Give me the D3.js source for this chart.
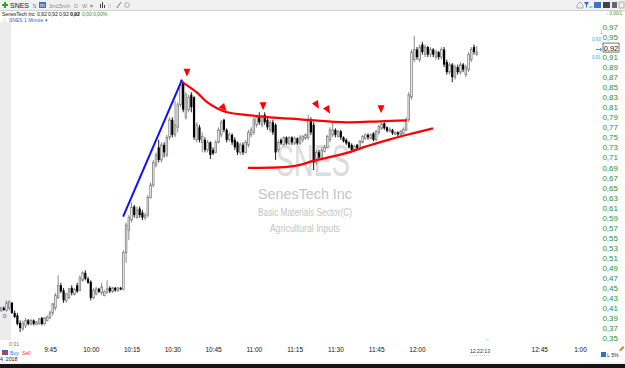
<!DOCTYPE html>
<html>
<head>
<meta charset="utf-8">
<script src="https://cdn.jsdelivr.net/npm/d3@7"></script>
<style>
html, body { margin: 0; padding: 0; background: #fff; overflow: hidden; }
svg { display: block; font-family: "Liberation Sans", Arial, sans-serif; }
</style>
</head>
<body>
<svg id="chart" width="625" height="368"></svg>
<script>
// SNES 1 minute bars, first bar at 9:27, each [open, high, low, close]
const firstBar = "09:27";
const bars = [
  [.405,.412,.402,.41],[.41,.413,.404,.406],[.405,.425,.403,.42],[.41,.425,.405,.422],[.42,.422,.398,.40],[.40,.405,.39,.392],[.395,.40,.375,.378],[.38,.385,.362,.37],[.368,.385,.365,.38],[.375,.39,.37,.385],
  [.385,.388,.375,.378],[.378,.388,.375,.385],[.385,.387,.375,.378],[.377,.384,.375,.382],[.378,.39,.377,.388],[.39,.392,.375,.378],[.378,.392,.377,.39],[.385,.395,.383,.392],[.39,.405,.388,.40],[.40,.42,.395,.418],
  [.41,.44,.405,.435],[.43,.475,.428,.455],[.455,.46,.44,.443],[.445,.45,.42,.425],[.425,.44,.42,.438],[.43,.45,.428,.448],[.45,.455,.435,.44],[.437,.45,.435,.447],[.455,.46,.44,.443],[.445,.475,.443,.47],
  [.465,.483,.462,.48],[.48,.485,.465,.468],[.468,.472,.458,.46],[.462,.465,.425,.43],[.43,.45,.428,.445],[.438,.452,.435,.448],[.448,.45,.44,.442],[.44,.46,.435,.452],[.435,.445,.433,.442],[.44,.465,.44,.448],
  [.45,.453,.44,.443],[.443,.452,.44,.45],[.45,.452,.442,.445],[.444,.452,.443,.45],[.45,.452,.445,.447],[.447,.525,.445,.52],[.52,.58,.50,.575],[.565,.595,.545,.59],[.585,.62,.58,.61],[.612,.615,.59,.595],
  [.59,.612,.588,.605],[.608,.612,.59,.595],[.60,.605,.585,.59],[.59,.60,.585,.595],[.595,.635,.59,.63],[.63,.66,.628,.655],[.655,.705,.65,.70],[.695,.72,.69,.715],[.73,.745,.70,.705],[.705,.74,.70,.735],
  [.735,.74,.71,.72],[.715,.755,.71,.75],[.75,.79,.745,.785],[.785,.79,.75,.755],[.755,.823,.75,.775],[.77,.82,.76,.815],[.815,.865,.81,.855],[.86,.862,.80,.805],[.79,.84,.785,.835],[.805,.835,.80,.83],
  [.835,.84,.80,.81],[.83,.832,.745,.75],[.745,.78,.74,.775],[.77,.775,.74,.745],[.74,.76,.72,.752],[.745,.75,.72,.725],[.725,.745,.72,.74],[.74,.742,.707,.715],[.725,.73,.715,.718],[.72,.745,.718,.74],
  [.74,.77,.738,.765],[.755,.785,.75,.78],[.785,.787,.76,.765],[.765,.768,.74,.745],[.745,.76,.742,.755],[.755,.758,.735,.74],[.745,.75,.725,.73],[.74,.742,.715,.72],[.72,.74,.715,.735],[.735,.74,.715,.72],
  [.72,.745,.718,.74],[.735,.765,.73,.76],[.755,.77,.75,.765],[.76,.79,.755,.785],[.775,.795,.77,.79],[.79,.80,.775,.78],[.775,.795,.77,.79],[.795,.80,.775,.78],[.785,.79,.765,.77],[.765,.785,.76,.78],
  [.78,.785,.755,.76],[.775,.778,.705,.72],[.725,.745,.72,.74],[.745,.748,.735,.738],[.735,.752,.733,.75],[.75,.752,.735,.738],[.737,.752,.735,.75],[.75,.752,.735,.74],[.738,.752,.735,.748],[.748,.75,.735,.738],
  [.738,.755,.735,.75],[.745,.755,.74,.752],[.748,.758,.745,.755],[.75,.795,.745,.785],[.785,.79,.755,.76],[.775,.78,.685,.70],[.70,.725,.695,.72],[.72,.725,.705,.71],[.71,.73,.705,.725],[.722,.735,.72,.73],
  [.73,.755,.728,.752],[.745,.77,.74,.765],[.755,.78,.75,.765],[.765,.768,.75,.755],[.752,.765,.75,.762],[.762,.765,.745,.75],[.75,.752,.74,.742],[.745,.748,.735,.738],[.74,.742,.728,.73],[.735,.738,.72,.725],
  [.725,.735,.72,.732],[.735,.737,.725,.728],[.728,.745,.725,.742],[.74,.755,.738,.752],[.748,.758,.745,.755],[.755,.758,.745,.75],[.748,.758,.746,.755],[.758,.76,.742,.745],[.745,.765,.743,.762],[.76,.775,.755,.772],
  [.768,.78,.765,.776],[.778,.78,.765,.768],[.77,.772,.76,.763],[.762,.77,.76,.766],[.765,.767,.755,.758],[.756,.762,.754,.76],[.76,.762,.752,.756],[.756,.765,.754,.762],[.758,.77,.756,.766],[.765,.79,.762,.785],
  [.785,.84,.78,.835],[.83,.925,.825,.92],[.905,.952,.90,.925],[.925,.93,.905,.91],[.905,.935,.90,.93],[.935,.94,.915,.92],[.915,.935,.91,.93],[.93,.932,.91,.915],[.915,.93,.91,.925],[.925,.928,.91,.915],
  [.91,.925,.905,.92],[.92,.922,.905,.91],[.91,.93,.905,.925],[.925,.93,.89,.895],[.90,.905,.875,.88],[.88,.90,.875,.895],[.895,.898,.86,.87],[.87,.895,.865,.89],[.89,.895,.875,.88],[.88,.90,.875,.895],
  [.895,.898,.88,.885],[.875,.895,.87,.89],[.885,.92,.88,.915],[.905,.93,.90,.925],[.93,.935,.915,.92],[.915,.932,.912,.92]
];

const timeTicks = ["09:45","10:00","10:15","10:30","10:45","11:00","11:15","11:30","11:45","12:00","12:45","13:00"];
const priceTicks = [0.35,0.37,0.39,0.41,0.43,0.45,0.47,0.49,0.51,0.53,0.55,0.57,0.59,0.61,0.63,0.65,0.67,0.69,0.71,0.73,0.75,0.77,0.79,0.81,0.83,0.85,0.87,0.89,0.91,0.95,0.97];
const lastPrice = 0.92;

// hand drawn annotations: [minutes after first bar, price]
const resistance = [[66.9,.859],[72.1,.839],[75.8,.820],[79.4,.808],[83.1,.800],[91.6,.794],[98.9,.790],[110,.786],[127.3,.780],[139.4,.782],[149.3,.784]];
const support = [[90.8,.689],[105.2,.691],[110,.695],[114.8,.703],[122.9,.713],[127.3,.719],[133.2,.730],[143.1,.746],[151.5,.758],[158.9,.768]];
const runup = [[44.9,.592],[66.6,.865]];
const arrows = [[68.4,.879],[82,.808],[96.4,.812],[116.2,.814],[120.3,.804],[139.8,.806]];
const arrowTilt = [0, -40, 0, -30, -30, 0];

const parseHM = d3.timeParse("%H:%M");
const t0 = parseHM(firstBar);
const atMinute = (m) => new Date(t0.getTime() + m * 60000);
const comma = (v) => d3.format(".2f")(v).replace(".", ",");

const svg = d3.select("#chart");

const x = d3.scaleTime().domain([parseHM("09:45"), parseHM("13:00")]).range([50, 580]);
const y = d3.scaleLinear().domain([0.35, 0.97]).range([338, 27]);

// left strip
svg.append("rect").attr("x", 0).attr("y", 22).attr("width", 11).attr("height", 318).attr("fill", "#ececec");
svg.append("text").attr("x", 3).attr("y", 318).attr("font-size", 6).attr("fill", "#555").text("0");

// watermark
const wm = svg.append("g").attr("text-anchor", "middle");
wm.append("text").attr("x", 313).attr("y", 176).attr("font-size", 44).attr("textLength", 74)
  .attr("lengthAdjust", "spacingAndGlyphs").attr("fill", "#dcdcdc").text("SNES");
wm.append("text").attr("x", 305).attr("y", 199).attr("font-size", 15).attr("textLength", 94)
  .attr("lengthAdjust", "spacingAndGlyphs").attr("fill", "#c4c4c4").text("SenesTech Inc");
wm.append("text").attr("x", 305).attr("y", 216).attr("font-size", 11).attr("textLength", 94)
  .attr("lengthAdjust", "spacingAndGlyphs").attr("fill", "#c4c4c4").text("Basic Materials Sector(C)");
wm.append("text").attr("x", 305).attr("y", 232).attr("font-size", 11).attr("textLength", 70)
  .attr("lengthAdjust", "spacingAndGlyphs").attr("fill", "#c4c4c4").text("Agricultural Inputs");

// candles
const candles = svg.append("g").selectAll("g")
  .data(bars)
  .join("g")
  .attr("transform", (d, i) => `translate(${x(atMinute(i))},0)`);

candles.append("line")
  .attr("y1", (d) => y(d[1]))
  .attr("y2", (d) => y(d[2]))
  .attr("stroke", (d) => (d[3] >= d[0] ? "#7d7d7d" : "#000"))
  .attr("stroke-width", 0.9);

candles.append("rect")
  .attr("x", (d) => (d[3] >= d[0] ? -0.8 : -1.1))
  .attr("width", (d) => (d[3] >= d[0] ? 1.6 : 2.2))
  .attr("y", (d) => y(Math.max(d[0], d[3])))
  .attr("height", (d) => Math.max(1, Math.abs(y(d[0]) - y(d[3]))))
  .attr("fill", (d) => (d[3] >= d[0] ? "#fff" : "#000"))
  .attr("stroke", (d) => (d[3] >= d[0] ? "#7d7d7d" : "none"))
  .attr("stroke-width", 0.8);

// annotations
const pen = d3.line()
  .x((d) => x(atMinute(d[0])))
  .y((d) => y(d[1]))
  .curve(d3.curveCatmullRom);

svg.append("path").attr("d", pen(resistance)).attr("fill", "none").attr("stroke", "#ff0000").attr("stroke-width", 2.2);
svg.append("path").attr("d", pen(support)).attr("fill", "none").attr("stroke", "#ff0000").attr("stroke-width", 2.2);
svg.append("path").attr("d", d3.line().x((d) => x(atMinute(d[0]))).y((d) => y(d[1]))(runup))
  .attr("fill", "none").attr("stroke", "#0d0dff").attr("stroke-width", 2);

svg.append("g").selectAll("path")
  .data(arrows)
  .join("path")
  .attr("d", "M-3.5,-4L3.5,-4L0,4Z")
  .attr("fill", "#ff0000")
  .attr("transform", (d, i) => `translate(${x(atMinute(d[0]))},${y(d[1])}) rotate(${arrowTilt[i]})`);

// time axis
const xAxis = svg.append("g")
  .attr("transform", "translate(0,349)")
  .call(d3.axisBottom(x)
    .tickValues(timeTicks.map(parseHM))
    .tickFormat(d3.timeFormat("%-I:%M"))
    .tickSize(0));
xAxis.select(".domain").remove();
xAxis.selectAll("text").attr("font-size", 6.5).attr("font-family", "Liberation Sans, Arial, sans-serif").attr("fill", "#111").attr("dy", 0);

// price axis
const yAxis = svg.append("g")
  .attr("transform", "translate(618,0)")
  .call(d3.axisRight(y)
    .tickValues(priceTicks)
    .tickFormat(comma)
    .tickSize(0));
yAxis.select(".domain").remove();
yAxis.selectAll("text").attr("text-anchor", "end").attr("x", 0).attr("font-size", 8)
  .attr("font-family", "Liberation Sans, Arial, sans-serif").attr("fill", "#2f8f2f");

// last price box
const boxY = y(lastPrice) - 4;
svg.append("rect").attr("x", 603).attr("y", boxY - 5).attr("width", 16).attr("height", 9)
  .attr("fill", "#fff").attr("stroke", "#555").attr("stroke-width", 0.8);
svg.append("text").attr("x", 611).attr("y", boxY + 2.5).attr("text-anchor", "middle")
  .attr("font-size", 7.5).attr("fill", "#111").text(comma(lastPrice));
const cyan = svg.append("g").attr("fill", "#1ab0e8").attr("font-size", 4.5);
cyan.append("text").attr("x", 592).attr("y", 41).text("0,93");
cyan.append("text").attr("x", 592).attr("y", 59).text("0,91");
cyan.append("text").attr("x", 600).attr("y", 34).text("1");
cyan.append("path").attr("d", "M596,49L600,49L600,47.5L602,49.5L600,51.5L600,50L596,50Z");

// header
svg.append("rect").attr("x", 0).attr("y", 0).attr("width", 625).attr("height", 10).attr("fill", "#f1f1f1");
svg.append("line").attr("x1", 0).attr("x2", 625).attr("y1", 10.5).attr("y2", 10.5).attr("stroke", "#cfcfcf");
svg.append("path").attr("d", "M2,4h2v-2h2v2h2v2h-2v2h-2v-2h-2Z").attr("fill", "#2aa52a");
svg.append("text").attr("x", 10).attr("y", 8).attr("font-size", 7.5).attr("textLength", 19)
  .attr("lengthAdjust", "spacingAndGlyphs").attr("fill", "#222").text("SNES");
const tools = svg.append("g").attr("font-size", 5.5).attr("fill", "#8c8c8c");
tools.append("text").attr("x", 32).attr("y", 7.5).text("\u21C5");
tools.append("rect").attr("x", 39).attr("y", 2).attr("width", 7).attr("height", 6).attr("fill", "#3f74c9");
tools.append("text").attr("x", 40).attr("y", 7).attr("fill", "#fff").text("m");
[["3m", 49], ["15m", 56], ["h", 67], ["D", 74], ["W", 82], ["\u25BE", 90]].forEach(([t, px]) =>
  tools.append("text").attr("x", px).attr("y", 7.5).text(t));
tools.append("path").attr("d", "M100,8v-4h1v4ZM102,8v-6h1v6ZM104,8v-3h1v3Z").attr("fill", "#444");
tools.append("text").attr("x", 108).attr("y", 7.5).text("\u205E\u205E");
tools.append("path").attr("d", "M117,8L121,2").attr("stroke", "#555").attr("stroke-width", 0.8);
tools.append("circle").attr("cx", 127).attr("cy", 5).attr("r", 2.3).attr("fill", "none").attr("stroke", "#999").attr("stroke-width", 0.8);

// right header icons
const ri = svg.append("g");
ri.append("path").attr("d", "M577,8v-3l3,-3l3,3v3Z").attr("fill", "none").attr("stroke", "#888").attr("stroke-width", 0.6);
ri.append("path").attr("d", "M584,2h5l-2,3v3l-1,-1v-2Z").attr("fill", "#2e6fc7");
ri.append("text").attr("x", 589).attr("y", 8).attr("font-size", 4).attr("fill", "#2a9a2a").text("=r");
ri.append("rect").attr("x", 594).attr("y", 2).attr("width", 7).attr("height", 6).attr("fill", "#3f74c9");
ri.append("rect").attr("x", 603).attr("y", 2).attr("width", 7).attr("height", 6).attr("fill", "#444");
ri.append("rect").attr("x", 612).attr("y", 2).attr("width", 5).attr("height", 6).attr("fill", "#666");
ri.append("rect").attr("x", 619).attr("y", 2).attr("width", 5).attr("height", 6).attr("fill", "none").attr("stroke", "#888").attr("stroke-width", 0.6);

// quote line
const quote = svg.append("g").attr("font-size", 5.3).attr("letter-spacing", -0.15);
[["SenesTech Inc", 2, "#222", "normal"],
 ["0,92", 37, "#222", "normal"],
 ["0,92", 48, "#222", "normal"],
 ["0,92", 59, "#222", "normal"],
 ["0,92", 70, "#111", "bold"],
 ["0,00", 82, "#2a9a2a", "normal"],
 ["0,00%", 93, "#2a9a2a", "normal"]].forEach(([t, px, c, fw]) =>
  quote.append("text").attr("x", px).attr("y", 15.5).attr("fill", c).attr("font-weight", fw).text(t));
svg.append("text").attr("x", 606).attr("y", 15).attr("font-size", 4.5).attr("fill", "#2a9a2a").text("\u2191 0,00/1");
svg.append("text").attr("x", 4).attr("y", 22).attr("font-size", 5).attr("fill", "#666").text("\u205E");
svg.append("text").attr("x", 9).attr("y", 22).attr("font-size", 5).attr("fill", "#3a66c4").text("SNES 1 Minute \u25BE");

// footer
const foot = svg.append("g").attr("font-size", 5.2);
foot.append("text").attr("x", 9).attr("y", 346).attr("fill", "#777").text("0:31");
foot.append("path").attr("d", "M2,350h6v2h-6ZM2,353h6v2h-6Z").attr("fill", "#3a66c4");
foot.append("path").attr("d", "M2,352h6v1h-6Z").attr("fill", "#e33");
foot.append("text").attr("x", 10).attr("y", 355).attr("fill", "#3a7ad8").text("Buy");
foot.append("text").attr("x", 22).attr("y", 355).attr("fill", "#e23a3a").text("Sell");
foot.append("text").attr("x", 0).attr("y", 361).attr("fill", "#222").text("4, 2018");
foot.append("text").attr("x", 480).attr("y", 353).attr("text-anchor", "middle").attr("fill", "#333").text("12:22:13");
foot.append("line").attr("x1", 470).attr("x2", 490).attr("y1", 355.5).attr("y2", 355.5)
  .attr("stroke", "#999").attr("stroke-width", 0.5).attr("stroke-dasharray", "1,1");
foot.append("text").attr("x", 487).attr("y", 343).attr("fill", "#999").text("\u02C6");
foot.append("rect").attr("x", 601).attr("y", 352).attr("width", 5).attr("height", 5).attr("fill", "#2e6fc7");
foot.append("text").attr("x", 607).attr("y", 357).attr("fill", "#333").text("L 5%");
foot.append("path").attr("d", "M619,350l4,-4l1.5,1.5l-4,4Z").attr("fill", "#c98a3a");
svg.append("rect").attr("x", 0).attr("y", 364).attr("width", 625).attr("height", 4).attr("fill", "#151515");
svg.append("line").attr("x1", 0).attr("x2", 625).attr("y1", 363).attr("y2", 363).attr("stroke", "#d8d8d8").attr("stroke-width", 0.6);
</script>
</body>
</html>
